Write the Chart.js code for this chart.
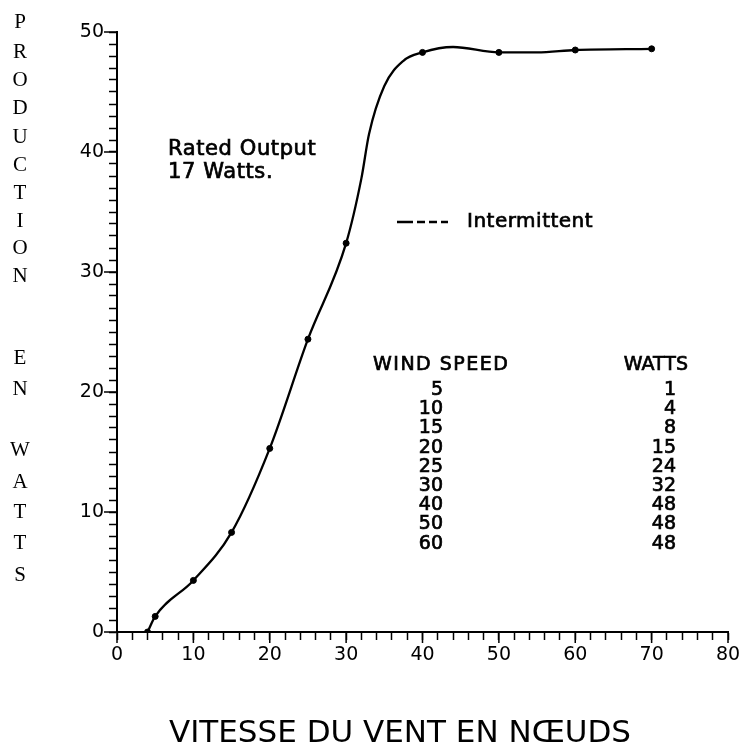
<!DOCTYPE html>
<html>
<head>
<meta charset="utf-8">
<script src="https://cdn.jsdelivr.net/npm/chart.js@4"></script>
<style>
  html, body { margin: 0; padding: 0; background: #fff; }
  canvas { display: block; }
</style>
</head>
<body>
<canvas id="windChart" width="739" height="751"></canvas>
<script>
// points (knots, watts)
const curveSpeed = [4, 5, 10, 15, 20, 25, 30, 32, 33, 35, 37.5, 40, 44, 50, 55, 60, 70];
const curveWatts = [0, 1.3, 4.3, 8.3, 15.3, 24.4, 32.4, 37.8, 41.5, 45.5, 47.6, 48.3, 48.75, 48.3, 48.3, 48.5, 48.6];

// the dots on the curve
const markerSpeed = [4, 5, 10, 15, 20, 25, 30, 40, 50, 60, 70];
const markerWatts = [0, 1.3, 4.3, 8.3, 15.3, 24.4, 32.4, 48.3, 48.3, 48.5, 48.6];

// the printed table
const tableSpeed = [5, 10, 15, 20, 25, 30, 40, 50, 60];
const tableWatts = [1, 4, 8, 15, 24, 32, 48, 48, 48];

const xMajorTicks = [0, 10, 20, 30, 40, 50, 60, 70, 80];
const yMajorTicks = [0, 10, 20, 30, 40, 50];

const yTitle = "PRODUCTION  EN  WATTS";
const xTitle = "VITESSE DU VENT EN NŒUDS";

const toPoints = (xs, ys) => xs.map((x, i) => ({ x, y: ys[i] }));

// fill + thin stroke, the plotter text is heavier than the plain font
function boldText(ctx, txt, x, y) {
    ctx.fillText(txt, x, y);
    ctx.strokeText(txt, x, y);
}

const textPlugin = {
    id: "plotText",
    beforeDraw(chart) {
        const ctx = chart.ctx;
        ctx.save();
        ctx.fillStyle = "#fff";
        ctx.fillRect(0, 0, chart.width, chart.height);
        ctx.restore();
    },
    afterDraw(chart) {
        const ctx = chart.ctx;
        const xs = chart.scales.x;
        const ys = chart.scales.y;
        ctx.save();
        ctx.fillStyle = "#000";
        ctx.strokeStyle = "#000";

        // longer ticks at the labelled values
        ctx.lineWidth = 1.5;
        yMajorTicks.forEach((v) => {
            const py = ys.getPixelForValue(v);
            ctx.beginPath();
            ctx.moveTo(ys.right - 13, py);
            ctx.lineTo(ys.right, py);
            ctx.stroke();
        });
        xMajorTicks.forEach((v) => {
            const px = xs.getPixelForValue(v);
            ctx.beginPath();
            ctx.moveTo(px, xs.top);
            ctx.lineTo(px, xs.top + 11);
            ctx.stroke();
        });

        ctx.textBaseline = "middle";
        ctx.lineWidth = 0.7;

        // note
        ctx.font = "21px 'DejaVu Sans'";
        ctx.letterSpacing = "0.6px";
        ctx.textAlign = "left";
        boldText(ctx, "Rated Output", 168, 150);
        boldText(ctx, "17 Watts.", 168, 173);

        // legend
        ctx.lineWidth = 2.5;
        ctx.setLineDash([16, 4, 8, 4, 8, 4]);
        ctx.beginPath();
        ctx.moveTo(397, 222);
        ctx.lineTo(448, 222);
        ctx.stroke();
        ctx.setLineDash([]);
        ctx.lineWidth = 0.7;
        ctx.font = "20px 'DejaVu Sans'";
        ctx.letterSpacing = "0.5px";
        boldText(ctx, "Intermittent", 467, 222);

        // table
        ctx.font = "19px 'DejaVu Sans'";
        ctx.letterSpacing = "1.5px";
        boldText(ctx, "WIND SPEED", 373, 365);
        ctx.letterSpacing = "0px";
        ctx.textAlign = "right";
        boldText(ctx, "WATTS", 688, 365);
        tableSpeed.forEach((s, i) => {
            const ty = 390 + i * 19.2;
            boldText(ctx, String(s), 443, ty);
            boldText(ctx, String(tableWatts[i]), 676, ty);
        });

        // stacked y title
        ctx.font = "21px 'Liberation Serif'";
        ctx.textAlign = "center";
        const letterY = [22, 52, 80, 108, 137, 165, 193, 221, 248, 276, null, null, 358, 389, null, null, 450, 482, 512, 543, 575];
        [...yTitle].forEach((c, i) => {
            if (c !== " " && letterY[i] != null) ctx.fillText(c, 20, letterY[i]);
        });

        // x title
        ctx.font = "31px 'DejaVu Sans'";
        ctx.fillText(xTitle, 400, 734);
        ctx.restore();
    },
};

new Chart(document.getElementById("windChart"), {
    type: "scatter",
    data: {
        datasets: [
            {
                label: "Intermittent",
                data: toPoints(curveSpeed, curveWatts),
                showLine: true,
                borderColor: "#000",
                borderWidth: 2.3,
                cubicInterpolationMode: "monotone",
                pointRadius: 0,
            },
            {
                label: "points",
                data: toPoints(markerSpeed, markerWatts),
                showLine: false,
                pointRadius: 3,
                backgroundColor: "#000",
                borderColor: "#000",
            },
        ],
    },
    options: {
        responsive: false,
        animation: false,
        layout: { padding: { top: 32, right: 11, left: 0, bottom: 0 } },
        plugins: { legend: { display: false }, tooltip: { enabled: false } },
        scales: {
            x: {
                type: "linear",
                min: 0,
                max: 80,
                afterFit: (s) => { s.height = 119; s.paddingRight = 0; s.paddingLeft = 0; },
                ticks: {
                    stepSize: 2,
                    autoSkip: false,
                    maxRotation: 0,
                    padding: 4,
                    color: "#000",
                    font: { family: "DejaVu Sans", size: 19 },
                    callback: (v) => (v % 10 === 0 ? v : ""),
                },
                grid: { drawOnChartArea: false, drawTicks: true, tickLength: 8, color: "#000", tickWidth: 1.5 },
                border: { color: "#000", width: 2 },
            },
            y: {
                type: "linear",
                min: 0,
                max: 50,
                afterFit: (s) => { s.width = 117; },
                ticks: {
                    stepSize: 1,
                    autoSkip: false,
                    padding: 5,
                    color: "#000",
                    font: { family: "DejaVu Sans", size: 19 },
                    callback: (v) => (v % 10 === 0 ? v : ""),
                },
                grid: { drawOnChartArea: false, drawTicks: true, tickLength: 8, color: "#000", tickWidth: 1.5 },
                border: { color: "#000", width: 2 },
            },
        },
    },
    plugins: [textPlugin],
});
</script>
</body>
</html>
